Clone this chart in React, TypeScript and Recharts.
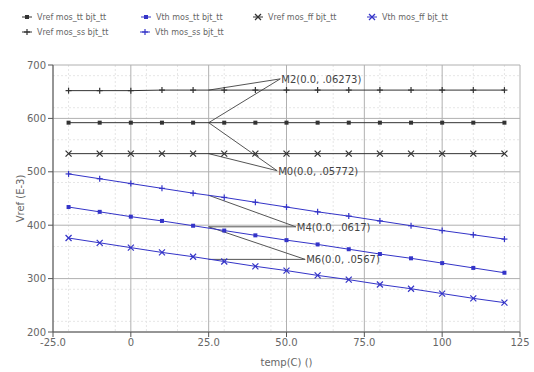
import {
  CartesianGrid,
  Line,
  LineChart,
  ReferenceDot,
  ReferenceLine,
  XAxis,
  YAxis,
} from "recharts";

const temps = [-20, -10, 0, 10, 20, 30, 40, 50, 60, 70, 80, 90, 100, 110, 120];
const vrefTT = [592, 592, 592, 592, 592, 592, 592, 592, 592, 592, 592, 592, 592, 592, 592];
const vthTT = [434, 425, 416, 408, 399, 390, 381, 372, 364, 355, 346, 338, 329, 320, 311];
const vrefFF = [534, 534, 534, 534, 534, 534, 534, 534, 534, 534, 534, 534, 534, 534, 534];
const vthFF = [376, 367, 358, 349, 341, 332, 323, 315, 306, 298, 289, 281, 272, 263, 255];
const vrefSS = [652, 652, 652, 653, 653, 653, 653, 653, 653, 653, 653, 653, 653, 653, 653];
const vthSS = [496, 487, 478, 469, 460, 452, 443, 434, 425, 417, 408, 399, 390, 382, 374];

const xTicks = [-25, 0, 25, 50, 75, 100, 125];
const yTicks = [200, 300, 400, 500, 600, 700];
const xMinor = [-20, -15, -10, -5, 5, 10, 15, 20, 30, 35, 40, 45, 55, 60, 65, 70, 80, 85, 90, 95, 105, 110, 115, 120];
const yMinor = [220, 240, 260, 280, 320, 340, 360, 380, 420, 440, 460, 480, 520, 540, 560, 580, 620, 640, 660, 680];

// delta markers: from two curve points to the label anchor
const markers = [
  { name: "M2(0.0, .06273)", at: { x: 48, y: 674 }, from: [{ x: 25, y: 653 }, { x: 25, y: 592 }] },
  { name: "M0(0.0, .05772)", at: { x: 47, y: 502 }, from: [{ x: 25, y: 592 }, { x: 25, y: 534 }] },
  { name: "M4(0.0, .0617)", at: { x: 53, y: 397 }, from: [{ x: 25, y: 456 }, { x: 25, y: 397 }] },
  { name: "M6(0.0, .0567)", at: { x: 56, y: 336 }, from: [{ x: 25, y: 397 }, { x: 25, y: 336 }] },
];

const data = temps.map((t, i) => ({
  t,
  vrefTT: vrefTT[i],
  vthTT: vthTT[i],
  vrefFF: vrefFF[i],
  vthFF: vthFF[i],
  vrefSS: vrefSS[i],
  vthSS: vthSS[i],
}));

const BLACK = "#333";
const BLUE = "#3434c8";
const font = "DejaVu Sans, sans-serif";

type Shape = "dot" | "x" | "plus";

function mark(shape: Shape, cx: number, cy: number, color: string, key?: string) {
  if (shape === "dot")
    return <rect key={key} x={cx - 2} y={cy - 2} width={4} height={4} fill={color} />;
  if (shape === "x")
    return (
      <g key={key} stroke={color} strokeWidth={1.2}>
        <line x1={cx - 3} y1={cy - 3} x2={cx + 3} y2={cy + 3} />
        <line x1={cx - 3} y1={cy + 3} x2={cx + 3} y2={cy - 3} />
      </g>
    );
  return (
    <g key={key} stroke={color} strokeWidth={1.2}>
      <line x1={cx - 3} y1={cy} x2={cx + 3} y2={cy} />
      <line x1={cx} y1={cy - 3} x2={cx} y2={cy + 3} />
    </g>
  );
}

const dotFor = (shape: Shape, color: string) => (p: any) =>
  mark(shape, p.cx, p.cy, color, `${shape}-${p.index}`);

const series = [
  { key: "vrefTT", name: "Vref mos_tt bjt_tt", color: BLACK, shape: "dot" as Shape },
  { key: "vthTT", name: "Vth mos_tt bjt_tt", color: BLUE, shape: "dot" as Shape },
  { key: "vrefFF", name: "Vref mos_ff bjt_tt", color: BLACK, shape: "x" as Shape },
  { key: "vthFF", name: "Vth mos_ff bjt_tt", color: BLUE, shape: "x" as Shape },
  { key: "vrefSS", name: "Vref mos_ss bjt_tt", color: BLACK, shape: "plus" as Shape },
  { key: "vthSS", name: "Vth mos_ss bjt_tt", color: BLUE, shape: "plus" as Shape },
];

const legendPos = [
  { x: 22, y: 17 },
  { x: 141, y: 17 },
  { x: 253, y: 17 },
  { x: 367, y: 17 },
  { x: 22, y: 32 },
  { x: 140, y: 32 },
];

function fmtX(v: number) {
  if (v === 0 || Math.abs(v) >= 100) return String(v);
  return v.toFixed(1);
}

function MarkerLabel(props: any) {
  const { viewBox, value } = props;
  return (
    <text x={viewBox.x + 1} y={viewBox.y + 4} fontSize={10} fill="#444" fontFamily={font}>
      {value}
    </text>
  );
}

export default function App() {
  return (
    <div style={{ position: "fixed", left: 0, top: 0, width: 534, height: 372, background: "#fff" }}>
      <svg width={534} height={45} style={{ position: "absolute", left: 0, top: 0 }}>
        {series.map((s, i) => (
          <g key={s.key}>
            <line x1={legendPos[i].x} y1={legendPos[i].y} x2={legendPos[i].x + 10} y2={legendPos[i].y} stroke={s.color} strokeWidth={1} />
            {mark(s.shape, legendPos[i].x + 5, legendPos[i].y, s.color)}
            <text x={legendPos[i].x + 15} y={legendPos[i].y + 3} fontSize={8} fill="#666" fontFamily={font}>
              {s.name}
            </text>
          </g>
        ))}
      </svg>
      <LineChart width={534} height={372} data={data} margin={{ top: 65, right: 14, bottom: 0, left: 13 }}>
        <CartesianGrid
          stroke="#e6e6e6"
          strokeDasharray="2 2"
          verticalValues={xMinor}
          horizontalValues={yMinor}
        />
        <CartesianGrid stroke="#b0b0b0" verticalValues={[...xTicks]} horizontalValues={[...yTicks]} />
        {/* minor tick marks along the axes (zero size so they share the main axis line) */}
        <XAxis
          xAxisId="minor"
          dataKey="t"
          type="number"
          domain={[-25, 125]}
          ticks={xMinor}
          tick={false}
          tickSize={3}
          stroke="#555"
          height={0}
        />
        <YAxis
          yAxisId="minor"
          type="number"
          domain={[200, 700]}
          ticks={yMinor}
          tick={false}
          tickSize={3}
          stroke="#555"
          width={0}
        />
        <XAxis
          dataKey="t"
          type="number"
          domain={[-25, 125]}
          ticks={xTicks}
          tickFormatter={fmtX}
          tick={{ fontSize: 10, fill: "#666", fontFamily: font }}
          stroke="#555"
          tickSize={5}
          height={40}
          label={{ value: "temp(C) ()", position: "insideBottom", offset: 6, fontSize: 10, fill: "#666", fontFamily: font }}
        />
        <YAxis
          type="number"
          domain={[200, 700]}
          ticks={yTicks}
          tick={{ fontSize: 10, fill: "#666", fontFamily: font }}
          stroke="#555"
          tickSize={5}
          width={40}
          label={{ value: "Vref (E-3)", angle: -90, position: "insideLeft", offset: 7, fontSize: 10, fill: "#666", fontFamily: font, style: { textAnchor: "middle" } }}
        />
        {markers.flatMap((m) =>
          m.from.map((f, j) => (
            <ReferenceLine
              key={`${m.name}-${j}`}
              segment={[f, m.at]}
              stroke="#555"
              strokeWidth={1}
              ifOverflow="visible"
            />
          )),
        )}
        {series.map((s) => (
          <Line
            key={s.key}
            type="linear"
            dataKey={s.key}
            name={s.name}
            stroke={s.color}
            strokeWidth={1}
            dot={dotFor(s.shape, s.color)}
            activeDot={false}
            isAnimationActive={false}
          />
        ))}
        {markers.map((m) => (
          <ReferenceDot
            key={m.name}
            x={m.at.x}
            y={m.at.y}
            r={0}
            fill="none"
            stroke="none"
            ifOverflow="visible"
            label={<MarkerLabel value={m.name} />}
          />
        ))}
      </LineChart>
    </div>
  );
}
